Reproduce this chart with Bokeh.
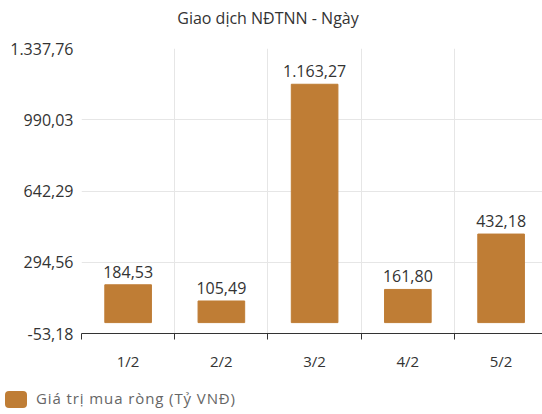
from bokeh.plotting import figure
from bokeh.layouts import column
from bokeh.models import (Range1d, LinearAxis, FixedTicker, Grid, ColumnDataSource, Div)
from bokeh.core.properties import value
from bokeh.embed import file_html
from bokeh.resources import INLINE

# ---- data ----
dates = ["1/2", "2/2", "3/2", "4/2", "5/2"]
values = [184.53, 105.49, 1163.27, 161.80, 432.18]
y_ticks = [-53.18, 294.56, 642.29, 990.03, 1337.76]
y_tick_labels = ["-53,18", "294,56", "642,29", "990,03", "1.337,76"]
series_name = "Giá trị mua ròng (Tỷ VNĐ)"
title_text = "Giao dịch NĐTNN - Ngày"


def vn(v):
    s = f"{v:,.2f}"
    return s.replace(",", "X").replace(".", ",").replace("X", ".")


FONT = "Open Sans"
BAR = "#BF7D35"
idx = list(range(len(dates)))
bounds = [i - 0.5 for i in range(len(dates) + 1)]

src = ColumnDataSource(dict(x=idx, top=values, label=[vn(v) for v in values]))

# title
title_div = Div(
    text=(f'<div style="width:536px;height:36px;line-height:36px;text-align:center;'
          f'font-family:\'{FONT}\';font-size:16px;color:#333333;">{title_text}</div>'),
    width=542, height=36, margin=0)

p = figure(width=542, height=348,
           x_range=Range1d(-0.5, 4.444), y_range=Range1d(y_ticks[0], y_ticks[-1]),
           x_axis_location=None, y_axis_location=None,
           output_backend="svg", toolbar_location=None,
           min_border_left=81, min_border_right=0, min_border_top=12, min_border_bottom=51)
p.outline_line_color = None
p.center = [r for r in p.center if not isinstance(r, Grid)]

# grids
p.add_layout(Grid(dimension=0, ticker=FixedTicker(ticks=bounds),
                  grid_line_color="#e6e6e6", grid_line_width=1))
p.add_layout(Grid(dimension=1, ticker=FixedTicker(ticks=y_ticks),
                  grid_line_color="#e6e6e6", grid_line_width=1))

# bars
p.vbar(x="x", top="top", bottom=0, width=0.5, source=src,
       fill_color=BAR, line_color=BAR)

# value labels
p.text(x="x", y="top", text="label", source=src, text_align="center",
       text_baseline="alphabetic", y_offset=-13, text_font=value(FONT),
       text_font_size="16px", text_color="#333333")

# y axis
yax = LinearAxis(ticker=FixedTicker(ticks=y_ticks),
                 major_label_overrides={t: l for t, l in zip(y_ticks, y_tick_labels)},
                 axis_line_color=None, major_tick_line_color=None, minor_tick_line_color=None,
                 major_tick_out=0, major_tick_in=0,
                 major_label_text_font=FONT, major_label_text_font_size="16px",
                 major_label_text_color="#333333", major_label_standoff=8)
p.add_layout(yax, "left")

# x axis: line + boundary ticks (no labels)
xtick = LinearAxis(ticker=FixedTicker(ticks=bounds),
                   major_label_overrides={b: "" for b in bounds},
                   axis_line_color="#333333", major_tick_line_color="#333333",
                   major_tick_out=6, major_tick_in=0, minor_tick_line_color=None,
                   major_label_text_font_size="1px", major_label_standoff=0)
p.add_layout(xtick, "below")

# x axis: category labels
xlab = LinearAxis(ticker=FixedTicker(ticks=idx),
                  major_label_overrides={i: d for i, d in zip(idx, dates)},
                  axis_line_color=None, major_tick_line_color=None, minor_tick_line_color=None,
                  major_label_text_font=FONT, major_label_text_font_size="15px",
                  major_label_text_color="#333333", major_label_standoff=5)
p.add_layout(xlab, "below")

# legend
legend_div = Div(
    text=(f'<div style="height:30px;display:flex;align-items:center;">'
          f'<span style="display:inline-block;width:22px;height:17px;margin-left:5px;'
          f'background:{BAR};border-radius:4px;"></span>'
          f'<span style="margin-left:9px;font-family:\'{FONT}\';font-size:15px;'
          f'letter-spacing:0.9px;color:#666666;">{series_name}</span></div>'),
    width=542, height=30, margin=0)

layout = column(title_div, p, legend_div, spacing=0)
open("out.html", "w").write(file_html(layout, INLINE))
